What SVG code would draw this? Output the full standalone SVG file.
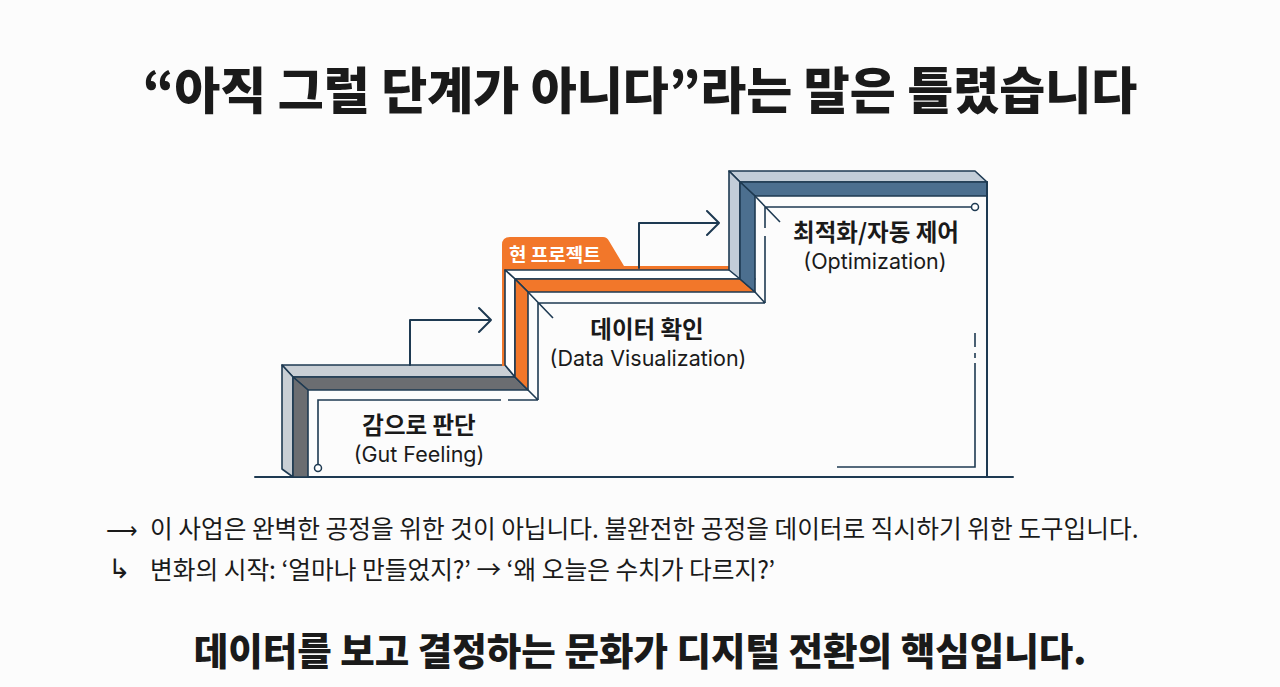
<svg xmlns="http://www.w3.org/2000/svg" width="1280" height="687" viewBox="0 0 1280 687">
<defs>
<style>
.ln{fill:none;stroke:#1e3a52;stroke-width:2;stroke-linejoin:round;stroke-linecap:round}
.thin{fill:none;stroke:#1e3a52;stroke-width:1.6}
.face{stroke:#1e3a52;stroke-width:1.6;stroke-linejoin:round}
.g1{fill:#c9cfd5}.g2{fill:#6b6d71}
.o1{fill:#ffffff}.o2{fill:#f2772a}
.b1{fill:#c2cdd8}.b2{fill:#4c6f8f}
.t{font-family:"Noto Sans CJK KR","Noto Sans",sans-serif;fill:#1a1a1a}
.lab{font-size:23.5px;font-weight:700;text-anchor:middle}
.sub{font-family:Inter,"Noto Sans",sans-serif;fill:#1a1a1a;font-size:21.5px;font-weight:400;text-anchor:middle}
</style>
</defs>
<rect width="1280" height="687" fill="#fcfcfc"/>
<text class="t" x="640" y="109" font-size="50" font-weight="900" text-anchor="middle">“아직 그럴 단계가 아니다”라는 말은 틀렸습니다</text>
<g id="ground"><line class="ln" x1="255" y1="477" x2="1013" y2="477"/></g>
<g id="step1">
<polygon class="face g1" points="282,365 505,365 515,377 293,377"/>
<polygon class="face g2" points="293,377 515,377 528,390 308,390"/>
<polygon class="face g1" points="282,365 293,377 293,477 282,469"/>
<polygon class="face g2" points="293,377 308,390 308,477 293,477"/>
<path class="thin" d="M318,464 V400 H501 M508,400 H538 M528,390 L538,400"/>
<circle cx="318" cy="468" r="3.5" fill="#fff" stroke="#1e3a52" stroke-width="1.5"/>
<text class="t lab" x="419" y="434">감으로 판단</text>
<text class="sub" x="419" y="462">(Gut Feeling)</text>
</g>
<g id="step2">
<path fill="#f2772a" d="M502,366 V245 Q502,237 510,237 H603 Q607,237 609,241 L624,266 H745 V270 H505 V366 Z"/>
<text class="t" x="509" y="262" font-size="19" font-weight="700" style="fill:#fff">현 프로젝트</text>
<polygon class="face o1" points="505,270 745,270 755,279 515,279"/>
<polygon class="face o2" points="515,279 740,279 755,292 528,292"/>
<polygon class="face o1" points="505,270 515,279 515,377 505,365"/>
<polygon class="face o2" points="515,279 528,292 528,390 515,377"/>
<path class="thin" d="M538,400 V303 H765 M528,292 L553,318 M755,292 L765,303"/>
<text class="t lab" x="647" y="338">데이터 확인</text>
<text class="sub" x="648" y="366">(Data Visualization)</text>
</g>
<g id="step3">
<polygon class="face b1" points="729,171 975,171 987,182 740,182"/>
<polygon class="face b2" points="740,182 987,182 987,196 755,196"/>
<polygon class="face b1" points="729,171 740,182 740,279 729,270"/>
<polygon class="face b2" points="740,182 755,196 755,292 740,279"/>
<path class="thin" d="M765,303 V236 M765,228 V207 H971 M755,196 L780,222"/>
<circle cx="975" cy="207" r="3.5" fill="#fff" stroke="#1e3a52" stroke-width="1.5"/>
<path class="ln" d="M987,182 V477"/>
<path class="thin" d="M975,333 V347 M975,353 V358 M975,363 V467 H837"/>
<text class="t lab" x="876" y="241">최적화/자동 제어</text>
<text class="sub" x="875" y="269">(Optimization)</text>
</g>
<g id="connectors">
<path class="ln" d="M410,365 V320 H491 M479,308 L491,320 L479,332"/>
<path class="ln" d="M639,268 V223 H719 M707,211 L719,223 L707,235"/>
</g>
<g id="notes">
<text class="t" x="106" y="538" font-size="22">⟶</text>
<text class="t" x="150" y="538" font-size="24.7">이 사업은 완벽한 공정을 위한 것이 아닙니다. 불완전한 공정을 데이터로 직시하기 위한 도구입니다.</text>
<text x="108" y="578" font-size="27" font-family="DejaVu Sans, sans-serif" fill="#1a1a1a">↳</text>
<text class="t" x="150" y="579" font-size="24.7">변화의 시작: ‘얼마나 만들었지?’ → ‘왜 오늘은 수치가 다르지?’</text>
</g>
<text class="t" x="640" y="665" font-size="37.5" font-weight="900" text-anchor="middle">데이터를 보고 결정하는 문화가 디지털 전환의 핵심입니다.</text>
</svg>
